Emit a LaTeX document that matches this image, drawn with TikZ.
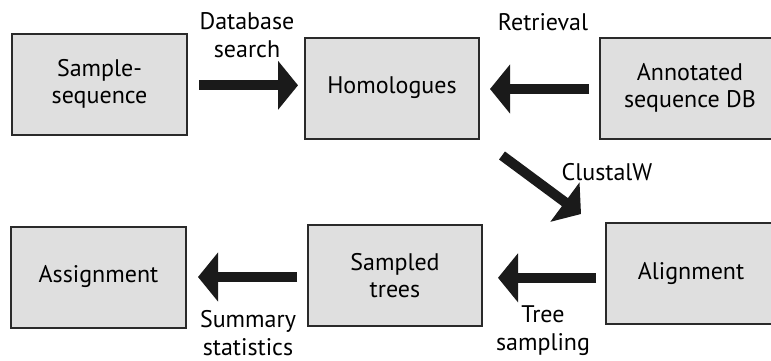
\documentclass[tikz,border=0pt]{standalone}
\usepackage{fontspec}
\setmainfont{PT Sans}
\usetikzlibrary{arrows.meta,calc}
\definecolor{boxfill}{HTML}{DFDFDF}
\definecolor{boxline}{HTML}{2A2A2A}
\definecolor{arrowcol}{HTML}{1A1A1A}
\begin{document}
\begin{tikzpicture}[x=1pt,y=-1pt,
  box/.style={draw=boxline,line width=2pt,fill=boxfill,minimum height=101pt,
    align=center,inner sep=0pt,font=\fontsize{24}{27}\selectfont},
  bigarrow/.style={draw=arrowcol,line width=10pt,
    -{Triangle[length=20pt,width=48pt]}},
  lbl/.style={align=center,inner sep=0pt,font=\fontsize{24}{28}\selectfont}]
\useasboundingbox (0,0) rectangle (771,360);
\node[box,minimum width=175pt] (b1) at (99.5,84) {Sample-\\sequence};
\node[box,minimum width=174pt] (b2) at (392,88) {Homologues};
\node[box,minimum width=180pt] (b3) at (690,88) {Annotated\\sequence DB};
\node[box,minimum width=175pt] (b4) at (98.5,277) {Assignment};
\node[box,minimum width=174pt] (b5) at (395,275.5) {Sampled\\trees};
\node[box,minimum width=170pt] (b6) at (691,273.5) {Alignment};
% arrows
\draw[bigarrow] ([shift={(11pt,-1.3pt)}]b1.east) -- ([shift={(-6pt,-1.3pt)}]b1.east -| b2.west);
\draw[bigarrow] ([shift={(-10pt,-1pt)}]b3.west) -- ([shift={(10pt,-1pt)}]b3.west -| b2.east);
\draw[bigarrow] ([shift={(-10pt,-1.5pt)}]b5.west) -- ([shift={(11pt,-1.5pt)}]b5.west -| b4.east);
\draw[bigarrow] ([shift={(-9pt,-4.3pt)}]b6.west) -- ([shift={(15pt,-4.3pt)}]b6.west -| b5.east);
\draw[bigarrow] ([shift={(22pt,-16pt)}]b2.south east) -- ([shift={(-24pt,8pt)}]b6.north west);
% labels
\node[lbl] (l1) at (247,35) {Database\\search};
\node[lbl] (l2) at (543,22) {Retrieval};
\node[lbl] (l3) at (607,172) {ClustalW};
\node[lbl] (l4) at (248,333) {Summary\\statistics};
\node[lbl] (l5) at (543,331) {Tree\\sampling};
\end{tikzpicture}
\end{document}
